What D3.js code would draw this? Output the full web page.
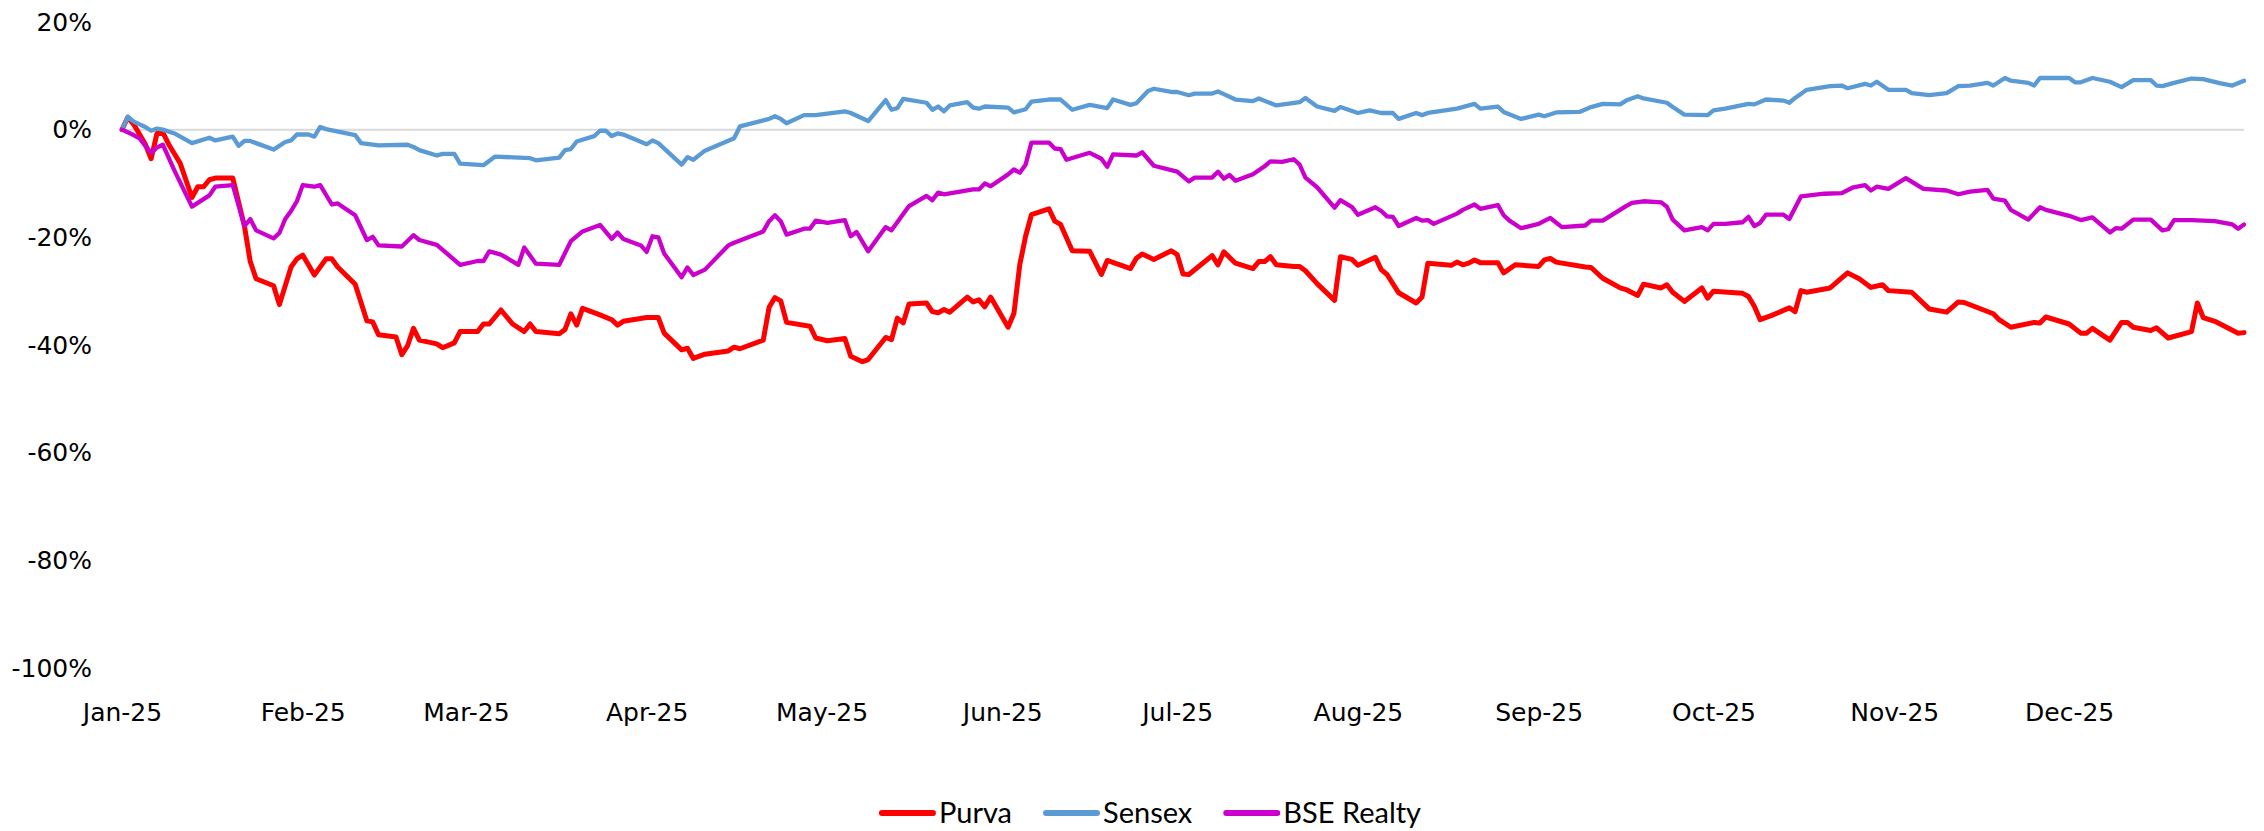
<!DOCTYPE html>
<html>
<head>
<meta charset="utf-8">
<title>Purva vs Sensex vs BSE Realty</title>
<script src="https://d3js.org/d3.v7.min.js"></script>
<style>
  body { margin: 0; background: #fff; }
</style>
</head>
<body>
<script>
// days counted from 1 Jan 2025, value = % change since start
const seriesNames = ["Purva", "Sensex", "BSE Realty"];
const seriesColors = ["#ff0000", "#5b9bd5", "#cc00cc"];

const purva = [
  [0,0],[1,2.3],[2,1.0],[4,-2.7],[5,-5.4],[6,-0.7],[7,-0.5],[8,-2.7],[10,-6.3],[12,-12.6],[13,-10.6],[14,-10.6],
  [15,-9.3],[16,-9.0],[19,-9.0],[21,-17.9],[22,-24.5],[23,-27.7],[26,-29.0],[27,-32.5],[29,-25.5],[30,-24.0],
  [31,-23.3],[33,-27.0],[35,-24.0],[36,-24.0],[37,-25.5],[40,-28.7],[42,-35.5],[43,-35.7],[44,-38.1],[47,-38.5],
  [48,-41.8],[49,-40.1],[50,-36.9],[51,-39.1],[54,-39.8],[55,-40.5],[57,-39.6],[58,-37.5],[61,-37.5],[62,-36.1],
  [63,-36.1],[65,-33.5],[67,-36.1],[69,-37.5],[70,-36.1],[71,-37.5],[75,-37.9],[76,-37.1],[77,-34.2],[78,-36.3],
  [79,-33.2],[82,-34.4],[84,-35.3],[85,-36.3],[86,-35.6],[90,-34.9],[92,-34.9],[93,-37.8],[96,-40.9],[97,-40.6],
  [98,-42.5],[100,-41.7],[104,-41.1],[105,-40.4],[106,-40.7],[110,-39.1],[111,-33.0],[112,-31.2],[113,-31.8],
  [114,-35.8],[118,-36.5],[119,-38.7],[121,-39.2],[124,-38.8],[125,-42.1],[127,-43.1],[128,-42.7],[131,-38.6],
  [132,-39.0],[133,-35.0],[134,-35.9],[135,-32.4],[138,-32.2],[139,-33.8],[140,-34.0],[141,-33.4],[142,-33.9],
  [145,-31.1],[146,-32.0],[147,-31.6],[148,-32.9],[149,-31.1],[152,-36.7],[153,-34.1],[154,-25.1],[155,-19.8],
  [156,-15.8],[159,-14.7],[160,-17.0],[161,-17.6],[163,-22.5],[166,-22.6],[168,-26.9],[169,-24.3],[173,-25.8],
  [174,-23.9],[175,-23.1],[177,-24.1],[180,-22.5],[181,-23.2],[182,-26.8],[183,-26.9],[187,-23.4],[188,-25.1],
  [189,-22.7],[191,-24.8],[194,-25.8],[195,-24.5],[196,-24.5],[197,-23.6],[198,-25.1],[201,-25.4],[202,-25.4],
  [203,-26.2],[205,-28.6],[208,-31.7],[209,-23.6],[211,-24.1],[212,-25.2],[215,-23.7],[216,-26.0],[217,-26.9],
  [219,-30.3],[222,-32.2],[223,-31.1],[224,-24.8],[228,-25.2],[229,-24.6],[230,-25.1],[231,-24.8],[232,-24.2],
  [233,-24.7],[236,-24.7],[237,-26.6],[239,-25.1],[243,-25.4],[244,-24.2],[245,-23.9],[246,-24.6],[251,-25.5],
  [252,-25.6],[254,-27.6],[257,-29.4],[258,-29.7],[260,-30.8],[261,-28.7],[264,-29.4],[265,-28.8],[266,-30.2],
  [268,-31.9],[271,-29.4],[272,-31.3],[273,-30.0],[278,-30.4],[279,-31.0],[280,-32.8],[281,-35.3],[283,-34.5],
  [286,-33.1],[287,-33.8],[288,-29.9],[289,-30.2],[293,-29.4],[296,-26.6],[298,-27.7],[300,-29.3],[302,-28.8],
  [303,-29.9],[307,-30.2],[310,-33.3],[313,-33.9],[315,-32.0],[316,-32.1],[321,-34.2],[322,-35.3],[324,-36.7],
  [328,-35.8],[329,-35.9],[330,-34.8],[334,-36.1],[336,-37.8],[337,-37.8],[338,-36.9],[341,-39.1],[343,-35.8],
  [344,-35.8],[345,-36.7],[348,-37.3],[349,-36.8],[351,-38.7],[355,-37.5],[356,-32.2],[357,-34.9],[359,-35.6],
  [363,-37.8],[364,-37.7]
];

const sensex = [
  [0,0],[1,2.4],[2,1.5],[4,0.5],[5,-0.2],[6,0.2],[7,0.0],[9,-0.7],[12,-2.5],[15,-1.5],[16,-2.0],[19,-1.3],
  [20,-3.0],[21,-2.1],[22,-2.1],[23,-2.5],[26,-3.7],[28,-2.3],[29,-2.0],[30,-0.9],[32,-0.9],[33,-1.3],[34,0.5],
  [35,0.1],[40,-1.0],[41,-2.5],[44,-2.9],[49,-2.8],[50,-3.2],[51,-3.8],[54,-4.8],[55,-4.5],[57,-4.5],[58,-6.3],
  [62,-6.6],[64,-5.0],[70,-5.3],[71,-5.7],[75,-5.2],[76,-3.8],[77,-3.6],[78,-2.2],[81,-1.2],[82,-0.2],[83,-0.2],
  [84,-1.2],[85,-0.7],[86,-0.9],[90,-2.7],[91,-2.0],[92,-2.5],[96,-6.5],[97,-5.1],[98,-5.6],[100,-3.9],[105,-1.6],
  [106,0.6],[111,2.0],[112,2.5],[113,2.0],[114,1.2],[117,2.7],[119,2.7],[124,3.4],[125,3.1],[128,1.6],[131,5.5],
  [132,3.7],[133,4.0],[134,5.7],[138,5.0],[139,3.7],[140,4.3],[141,3.4],[142,4.5],[145,5.1],[146,4.1],[147,3.9],
  [148,4.3],[152,4.1],[153,3.2],[155,3.8],[156,5.2],[159,5.6],[161,5.6],[163,3.7],[166,4.6],[169,4.0],[170,5.6],
  [173,4.6],[174,4.9],[176,7.2],[177,7.6],[180,7.0],[181,7.0],[183,6.4],[184,6.7],[187,6.7],[188,7.1],[189,6.6],
  [191,5.6],[194,5.3],[195,5.8],[198,4.5],[202,5.1],[203,5.9],[205,4.3],[208,3.5],[209,4.2],[212,3.1],[214,3.6],
  [216,3.1],[218,3.1],[219,2.0],[222,3.1],[223,2.7],[224,3.1],[229,3.9],[232,4.8],[233,3.9],[236,4.3],[237,3.3],
  [240,2.0],[243,2.8],[244,2.5],[246,3.2],[250,3.3],[252,4.2],[254,4.8],[257,4.7],[258,5.4],[260,6.2],[261,5.8],
  [265,5.0],[266,4.2],[268,2.8],[272,2.7],[273,3.6],[275,3.9],[279,4.8],[280,4.7],[282,5.6],[285,5.4],[286,5.0],
  [287,5.9],[289,7.4],[293,8.1],[295,8.2],[296,7.7],[299,8.5],[300,8.2],[301,8.9],[303,7.4],[306,7.4],[307,6.8],
  [310,6.4],[313,6.8],[315,8.1],[317,8.2],[320,8.7],[321,8.2],[323,9.6],[324,9.1],[327,8.7],[328,8.2],[329,9.6],
  [334,9.6],[335,8.8],[336,8.8],[338,9.6],[341,8.9],[343,7.9],[345,9.2],[348,9.2],[349,8.2],[350,8.1],[352,8.7],
  [355,9.5],[357,9.4],[360,8.6],[362,8.2],[364,9.1]
];

const bseRealty = [
  [0,0],[2,-1.0],[3,-1.6],[4,-3.0],[5,-4.3],[6,-3.3],[7,-2.8],[9,-7.6],[12,-14.3],[13,-13.6],[15,-12.2],
  [16,-10.6],[19,-10.3],[21,-17.9],[22,-16.6],[23,-18.7],[26,-20.2],[27,-19.2],[28,-16.6],[29,-15.1],[30,-13.3],
  [31,-10.3],[33,-10.6],[34,-10.3],[36,-13.9],[37,-13.7],[40,-15.9],[42,-20.5],[43,-19.9],[44,-21.5],[48,-21.7],
  [50,-19.6],[51,-20.5],[54,-21.4],[58,-25.1],[61,-24.4],[62,-24.4],[63,-22.6],[65,-23.2],[68,-25.1],[69,-21.9],
  [71,-24.9],[75,-25.1],[77,-20.7],[79,-18.9],[82,-17.7],[84,-20.3],[85,-19.1],[86,-20.3],[89,-21.5],[90,-22.7],
  [91,-19.8],[92,-20.0],[93,-23.0],[96,-27.4],[97,-25.6],[98,-27.0],[100,-26.0],[104,-21.5],[105,-21.0],
  [110,-18.9],[111,-17.0],[112,-15.9],[113,-17.0],[114,-19.5],[117,-18.4],[118,-18.4],[119,-16.9],[121,-17.3],
  [124,-16.8],[125,-19.8],[126,-19.0],[128,-22.6],[131,-18.1],[132,-18.7],[135,-14.2],[138,-12.3],[139,-13.1],
  [140,-11.7],[141,-12.0],[146,-11.1],[147,-11.1],[148,-10.0],[149,-10.5],[152,-8.3],[153,-7.4],[154,-8.0],
  [155,-6.5],[156,-2.4],[159,-2.4],[160,-3.5],[161,-3.6],[162,-5.6],[166,-4.3],[168,-5.4],[169,-6.9],[170,-4.6],
  [174,-4.8],[175,-4.2],[177,-6.7],[181,-7.8],[183,-9.6],[184,-8.9],[187,-8.9],[188,-7.8],[189,-9.1],[190,-8.4],
  [191,-9.5],[194,-8.3],[196,-6.8],[197,-5.9],[199,-6.0],[201,-5.5],[202,-6.5],[203,-8.9],[205,-10.7],[208,-14.5],
  [209,-13.1],[211,-14.4],[212,-15.8],[215,-14.4],[216,-15.1],[217,-16.1],[218,-16.2],[219,-17.9],[222,-16.4],
  [223,-16.9],[224,-16.8],[225,-17.5],[229,-15.6],[230,-14.9],[232,-13.9],[233,-14.7],[236,-14.0],[237,-15.9],
  [238,-16.9],[240,-18.3],[243,-17.5],[245,-16.4],[247,-18.1],[251,-17.8],[252,-16.9],[254,-16.9],[258,-14.2],
  [259,-13.6],[261,-13.3],[264,-13.5],[265,-14.3],[266,-16.7],[268,-18.7],[271,-18.1],[272,-18.7],[273,-17.5],
  [275,-17.5],[278,-17.2],[279,-16.2],[280,-17.9],[281,-17.3],[282,-15.8],[285,-15.8],[286,-16.6],[288,-12.4],
  [292,-11.9],[295,-11.8],[297,-10.7],[299,-10.3],[300,-11.3],[301,-10.6],[303,-11.0],[306,-9.0],[309,-11.0],
  [313,-11.3],[315,-12.0],[317,-11.5],[320,-11.2],[321,-12.8],[323,-13.2],[324,-14.9],[327,-16.7],[329,-14.4],
  [330,-14.9],[334,-16.0],[336,-16.8],[338,-16.3],[341,-19.1],[342,-18.3],[343,-18.4],[345,-16.7],[348,-16.7],
  [350,-18.7],[351,-18.5],[352,-16.8],[355,-16.8],[359,-17.0],[362,-17.6],[363,-18.4],[364,-17.6]
];

const yTicks = [20, 0, -20, -40, -60, -80, -100];

const width = 2264, height = 831;
const plotLeft = 122, plotRight = 2244, plotTop = 22, plotBottom = 668;
const startDate = new Date(2025, 0, 1);
const toDate = d => d3.timeDay.offset(startDate, d);

const svg = d3.select("body").append("svg")
  .attr("width", width).attr("height", height);

const x = d3.scaleTime().domain([startDate, new Date(2025, 11, 31)]).range([plotLeft, plotRight]);
const y = d3.scaleLinear().domain([-100, 20]).range([plotBottom, plotTop]);

// zero line (category axis crosses at 0)
svg.append("line")
  .attr("x1", plotLeft).attr("x2", plotRight)
  .attr("y1", y(0)).attr("y2", y(0))
  .attr("stroke", "#d9d9d9").attr("stroke-width", 2);

// y axis labels
const yAxis = d3.axisLeft(y).tickValues(yTicks).tickSize(0).tickPadding(30).tickFormat(d => d + "%");
const yg = svg.append("g").attr("transform", `translate(${plotLeft},0)`).call(yAxis);
yg.select(".domain").remove();
yg.selectAll("text").attr("font-family", "DejaVu Sans").attr("font-size", 25).attr("fill", "#000");

// x axis labels at the bottom
const months = d3.timeMonths(startDate, new Date(2025, 11, 2));
const xAxis = d3.axisBottom(x).tickValues(months).tickSize(0).tickPadding(35).tickFormat(d3.timeFormat("%b-%y"));
const xg = svg.append("g").attr("transform", `translate(0,${plotBottom})`).call(xAxis);
xg.select(".domain").remove();
xg.selectAll("text").attr("font-family", "DejaVu Sans").attr("font-size", 25).attr("fill", "#000");

// lines
const line = d3.line().x(d => x(toDate(d[0]))).y(d => y(d[1]));
const allSeries = [purva, sensex, bseRealty];
const widths = [5, 4.3, 4.3];
allSeries.forEach((s, i) => {
  svg.append("path")
    .datum(s)
    .attr("fill", "none")
    .attr("stroke", seriesColors[i])
    .attr("stroke-width", widths[i])
    .attr("stroke-linejoin", "round")
    .attr("stroke-linecap", "round")
    .attr("d", line);
});

// legend
const legend = svg.append("g");
const legendY = 813;
let lx = 0;
seriesNames.forEach((name, i) => {
  const g = legend.append("g").attr("transform", `translate(${lx},0)`);
  g.append("line").attr("x1", 3).attr("x2", 54).attr("y1", legendY).attr("y2", legendY)
    .attr("stroke", seriesColors[i]).attr("stroke-width", 6).attr("stroke-linecap", "round");
  const t = g.append("text").attr("x", 60).attr("y", legendY).attr("dy", "0.35em")
    .attr("font-family", "Lato").attr("font-size", 29).attr("fill", "#000").text(name);
  lx += 60 + t.node().getComputedTextLength() + 31;
});
const legendW = lx - 31;
legend.attr("transform", `translate(${1150 - legendW / 2},0)`);
</script>
</body>
</html>
